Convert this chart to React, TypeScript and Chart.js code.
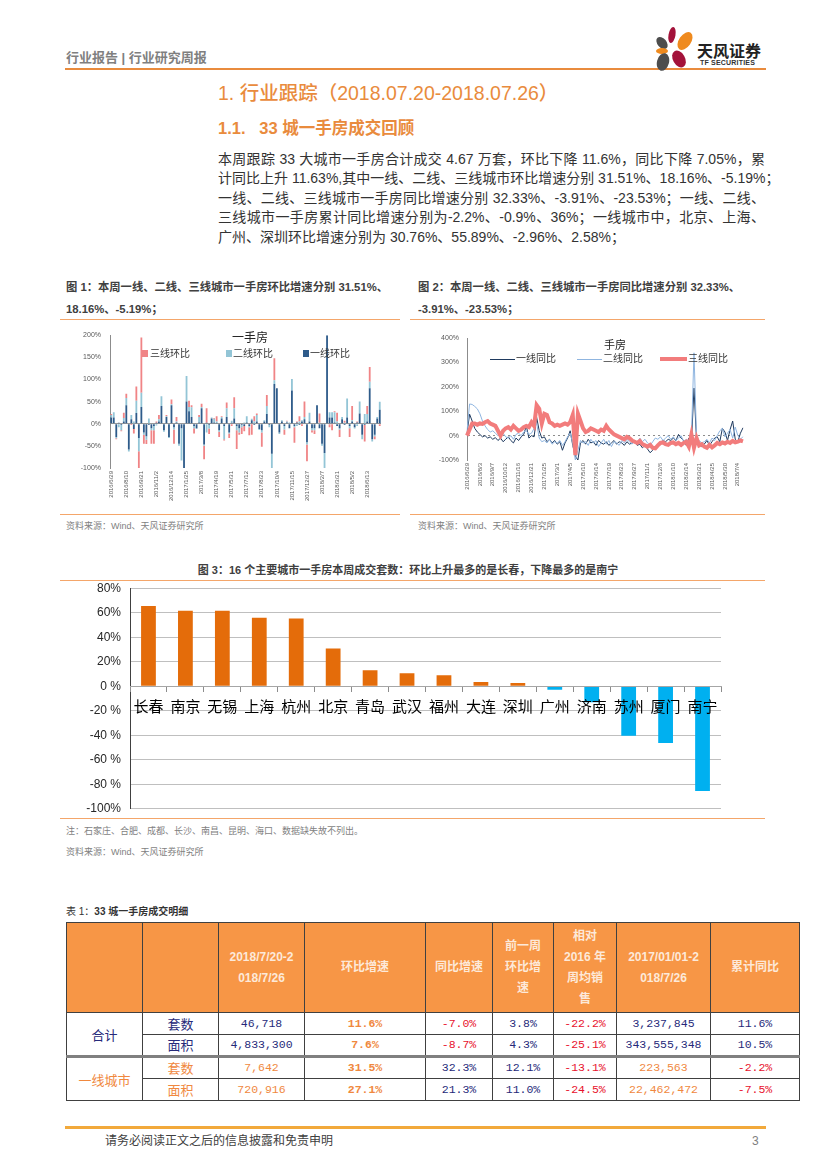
import React, { useEffect, useRef } from 'react';
import { Chart, registerables } from 'chart.js';

Chart.register(...registerables);

const CN = '"Liberation Sans", "Noto Sans CJK SC", sans-serif';
const CJK = '"Noto Sans CJK SC", "Liberation Sans", sans-serif';
Chart.defaults.font.family = CN;

// ---------- weekly categories (figures 1 & 2) ----------
const firstWeekUTC = Date.UTC(2016, 5, 29);
const weekCount = 108;
const weeks: string[] = [];
for (let i = 0; i < weekCount; i++) {
  const d = new Date(firstWeekUTC + i * 7 * 86400000);
  weeks.push(`${d.getUTCFullYear()}/${d.getUTCMonth() + 1}/${d.getUTCDate()}`);
}

// ---------- figure 1: week-on-week growth (%) ----------
const tier1Mom = [14,14,-30,2,-3,5,42,-58,10,-12,
  24,-32,38,-20,-28,-3,-10,-5,2,5,
  40,-15,15,-30,42,-8,3,-45,-10,-100,
  50,28,15,-5,-10,3,35,-47,2,-3,
  12,3,2,-15,12,-5,15,-20,2,12,
  -5,-10,-3,-5,3,-5,8,-3,5,-12,
  -15,5,22,-3,-68,90,80,-20,5,-5,
  3,-10,75,-5,3,-3,5,10,-42,5,
  -10,-10,42,-10,-45,-66,200,14,14,3,
  -5,-10,10,-3,14,-5,5,-8,3,23,
  -25,-3,5,80,-35,-25,12,31.51];
const tier2Mom = [6,12,-3,-8,-12,8,16,-5,10,5,
  28,-30,32,-5,-8,12,-5,-10,-4,5,
  22,-3,2,-2,2,-5,2,-5,-73,0,
  58,10,22,-5,-2,12,3,-3,-20,-8,
  2,8,3,-3,3,-30,20,-2,5,23,
  -10,-10,-5,3,14,-3,3,5,15,-2,
  -5,3,18,-5,-32,8,0,-3,3,-8,
  2,3,26,-3,-5,5,3,5,-5,20,
  -5,-5,0,2,-5,-34,0,12,12,23,
  5,-3,5,2,43,-5,3,-3,-5,27,
  -10,22,17,15,-5,-3,3,18.16];
const tier3Mom = [2,0,-2,0,-2,12,10,0,-3,-10,
  32,-38,125,-20,-10,0,-30,-30,3,10,
  0,0,3,0,11,-32,10,0,0,0,
  0,14,5,-12,0,5,7,-30,33,-12,
  0,2,12,-12,2,-3,13,-10,-5,25,
  -42,-5,-15,-12,0,-18,-25,12,3,0,
  -32,0,25,0,0,50,0,0,0,-12,
  2,0,0,-35,2,12,-5,35,-38,0,
  -5,-8,0,21,0,0,0,-8,-15,2,
  20,-17,0,5,0,-20,32,0,2,0,
  0,-37,18,33,0,-7,0,-5.19];

// ---------- figure 2: year-on-year growth (%) ----------
const tier1Yoy = [10,88,60,30,15,5,-5,0,-10,-5,
  -15,-8,-20,-10,-25,-15,-5,-20,-30,-10,
  -20,-5,5,40,-10,0,-5,75,20,-10,
  -5,-25,-15,-30,-20,-35,-25,-60,-30,-10,
  20,-40,-85,-100,-30,-20,-35,-15,-30,-25,
  -40,-20,-30,-35,-25,-40,-30,-20,-35,-25,
  -30,-40,-25,-35,-30,-20,-40,-35,-50,-40,
  -55,-70,-60,-45,-35,-30,-20,-25,-15,-20,
  -10,-20,5,-10,-20,-40,-10,-30,195,-20,
  -30,-45,-35,-20,-40,-25,-10,-5,-25,30,
  15,-20,25,60,-15,-25,10,32.33];
const tier2Yoy = [20,130,128,120,110,90,60,40,25,15,
  20,10,0,5,10,-5,-10,0,-15,5,
  10,0,15,20,5,10,30,50,-10,-25,
  -20,-30,-15,-35,-25,-30,-20,-40,-25,-5,
  10,-30,-100,-60,-20,-30,-25,-40,-15,-30,
  -20,-45,-30,-15,-35,-20,-45,-25,-30,-40,
  -20,-30,-15,-25,-35,-20,-30,-10,-25,-15,
  -30,-40,-25,-10,-15,-5,-20,-10,0,-15,
  -5,-20,-10,0,-25,-15,-30,-5,340,-10,
  -20,-30,-25,-15,-30,-10,-20,0,20,30,
  -5,10,25,-10,35,0,-15,-3.91];
const tier3Yoy = [0,25,50,50,45,50,48,55,60,50,
  45,40,20,0,20,30,35,25,40,30,
  20,25,35,40,35,55,40,125,110,50,
  90,85,55,50,40,45,40,45,50,45,
  55,85,-80,90,60,30,15,20,30,25,
  20,15,25,20,40,25,15,5,0,-5,
  -10,-15,-5,-10,-20,-25,-30,-22,-35,-40,
  -45,-38,-50,-52,-40,-30,-28,-35,-38,-30,
  -28,-35,-30,-38,-30,-25,-45,5,-50,-10,
  -40,-35,-45,-50,-38,-48,-40,-30,-35,-28,
  -32,-25,-30,-22,-28,-25,-20,-23.53];

// ---------- figure 3: 16 cities ----------
const cities = ['长春','南京','无锡','上海','杭州','北京','青岛','武汉','福州','大连','深圳','广州','济南','苏州','厦门','南宁'];
const cityMom = [65.5, 61.5, 61.5, 55.89, 55.3, 30.76, 13, 10.6, 9, 3.4, 2.58, -2.96, -13, -40.4, -46.4, -85.5];
const cityAxisLabels = ['-100%', '-80 %', '-60 %', '-40 %', '-20 %', '0 %', '20%', '40%', '60%', '80%'];

// ---------- table ----------
const tableHead = ['', '', '2018/7/20-2\n018/7/26', '环比增速', '同比增速', '前一周\n环比增\n速', '相对\n2016 年\n周均销\n售', '2017/01/01-2\n018/7/26', '累计同比'];
const colWidths = [76, 76, 86, 121, 67, 61, 63, 94, 89];
const NAVY = '#262a7a';
const RED = '#e8112d';
const ORG = '#f0883e';
const tableRows = [
  { group: '合计', groupColor: NAVY, kind: '套数', kindColor: NAVY, cells: [['46,718', NAVY], ['11.6%', ORG], ['-7.0%', RED], ['3.8%', NAVY], ['-22.2%', RED], ['3,237,845', NAVY], ['11.6%', NAVY]] },
  { group: '', groupColor: NAVY, kind: '面积', kindColor: NAVY, cells: [['4,833,300', NAVY], ['7.6%', ORG], ['-8.7%', RED], ['4.3%', NAVY], ['-25.1%', RED], ['343,555,348', NAVY], ['10.5%', NAVY]] },
  { group: '一线城市', groupColor: ORG, kind: '套数', kindColor: ORG, cells: [['7,642', ORG], ['31.5%', ORG], ['32.3%', NAVY], ['12.1%', NAVY], ['-13.1%', RED], ['223,563', ORG], ['-2.2%', RED]] },
  { group: '', groupColor: ORG, kind: '面积', kindColor: ORG, cells: [['720,916', ORG], ['27.1%', ORG], ['21.3%', NAVY], ['11.0%', NAVY], ['-24.5%', RED], ['22,462,472', ORG], ['-7.5%', RED]] },
];

const paragraphLines = [
  '本周跟踪 33 大城市一手房合计成交 4.67 万套，环比下降 11.6%，同比下降 7.05%，累',
  '计同比上升 11.63%,其中一线、二线、三线城市环比增速分别 31.51%、18.16%、-5.19%；',
  '一线、二线、三线城市一手房同比增速分别 32.33%、-3.91%、-23.53%；一线、二线、',
  '三线城市一手房累计同比增速分别为-2.2%、-0.9%、36%；一线城市中，北京、上海、',
  '广州、深圳环比增速分别为 30.76%、55.89%、-2.96%、2.58%；',
];

const abs = (x: number, y: number, extra: any = {}) => ({ position: 'absolute' as const, left: x, top: y, ...extra });

function Txt({ x, y, size, color = '#333', weight = 400, family = CN, children, lh, extra = {} }: any) {
  const h = lh || Math.round(size * 1.4);
  return (
    <div style={abs(x, y - h / 2, { fontSize: size, lineHeight: h + 'px', color, fontWeight: weight, fontFamily: family, whiteSpace: 'nowrap', ...extra })}>
      {children}
    </div>
  );
}

export default function App() {
  const c1 = useRef<HTMLCanvasElement>(null);
  const c2 = useRef<HTMLCanvasElement>(null);
  const c3 = useRef<HTMLCanvasElement>(null);

  useEffect(() => {
    const smallTick = { size: 6, family: CN };
    const ch1 = new Chart(c1.current!, {
      type: 'bar',
      data: {
        labels: weeks,
        datasets: [
          { label: '一线环比', data: tier1Mom, backgroundColor: '#2e5b8a', barPercentage: 0.8, categoryPercentage: 0.9 },
          { label: '二线环比', data: tier2Mom, backgroundColor: '#93c5d6', barPercentage: 0.8, categoryPercentage: 0.9 },
          { label: '三线环比', data: tier3Mom, backgroundColor: '#f08486', barPercentage: 0.8, categoryPercentage: 0.9 },
        ],
      },
      options: {
        animation: false, responsive: false, maintainAspectRatio: false,
        layout: { padding: { top: 8, right: 15, left: 0, bottom: 0 } },
        plugins: { legend: { display: false }, tooltip: { enabled: false } },
        scales: {
          x: {
            stacked: true,
            grid: { display: false, drawTicks: false },
            border: { display: false },
            ticks: { autoSkip: false, minRotation: 90, maxRotation: 90, font: smallTick, color: '#595959', padding: 3,
              callback: (_v: any, i: number) => (i % 6 === 0 ? weeks[i] : '') },
            afterFit: (s: any) => { s.height = 44; },
          },
          y: {
            stacked: true, min: -100, max: 200,
            ticks: { stepSize: 50, font: { size: 7, family: CN }, color: '#595959', padding: 9, callback: (v: any) => v + '%' },
            grid: { drawTicks: false, color: (c: any) => (c.tick && c.tick.value === 0 ? '#9a9a9a' : 'rgba(0,0,0,0)') },
            border: { color: '#8c8c8c' },
            afterFit: (s: any) => { s.width = 44; },
          },
        },
      },
    } as any);

    const ch2 = new Chart(c2.current!, {
      type: 'line',
      data: {
        labels: weeks,
        datasets: [
          { label: '一线同比', data: tier1Yoy, borderColor: '#1f3a5f', borderWidth: 1, pointRadius: 0, order: 2 },
          { label: '二线同比', data: tier2Yoy, borderColor: '#8fb5e0', borderWidth: 1, pointRadius: 0, order: 1 },
          { label: '三线同比', data: tier3Yoy, borderColor: '#f27c7c', borderWidth: 4, pointRadius: 0, order: 0 },
        ],
      },
      options: {
        animation: false, responsive: false, maintainAspectRatio: false,
        layout: { padding: { top: 9, right: 22, left: 0, bottom: 0 } },
        plugins: { legend: { display: false }, tooltip: { enabled: false } },
        scales: {
          x: {
            grid: { display: false, drawTicks: false },
            border: { display: false },
            ticks: { autoSkip: false, minRotation: 90, maxRotation: 90, font: smallTick, color: '#595959', padding: 3,
              callback: (_v: any, i: number) => (i % 5 === 0 ? weeks[i] : '') },
            afterFit: (s: any) => { s.height = 50; },
          },
          y: {
            min: -100, max: 400,
            ticks: { stepSize: 100, font: { size: 7, family: CN }, color: '#595959', padding: 8, callback: (v: any) => v + '%' },
            grid: { drawTicks: false, color: (c: any) => (c.tick && c.tick.value === 0 ? '#8c8c8c' : 'rgba(0,0,0,0)') },
            border: { color: '#8c8c8c', dash: [2, 3] },
            afterFit: (s: any) => { s.width = 49; },
          },
        },
      },
    } as any);

    const ch3 = new Chart(c3.current!, {
      type: 'bar',
      data: {
        labels: cities,
        datasets: [
          { label: '环比', data: cityMom, backgroundColor: cityMom.map((v) => (v >= 0 ? '#e46c0a' : '#00b0f0')), barPercentage: 0.4, categoryPercentage: 1 },
        ],
      },
      options: {
        animation: false, responsive: false, maintainAspectRatio: false,
        layout: { padding: { top: 3, right: 45, left: 0, bottom: 0 } },
        plugins: { legend: { display: false }, tooltip: { enabled: false } },
        scales: {
          x: {
            position: { y: 0 },
            grid: { drawOnChartArea: false, drawTicks: true, tickLength: 5, color: '#8c8c8c', z: 1 },
            border: { color: '#a6a6a6', z: 1 },
            ticks: { font: { size: 15, family: CJK }, color: '#000', padding: 6, autoSkip: false, maxRotation: 0, z: 2 },
          },
          y: {
            min: -100, max: 80,
            ticks: { stepSize: 20, font: { size: 12, family: CN }, color: '#262626', padding: 9,
              callback: (_v: any, i: number) => cityAxisLabels[i] },
            grid: { drawTicks: false, color: '#bfbfbf' },
            border: { color: '#404040' },
            afterFit: (s: any) => { s.width = 64; },
          },
        },
      },
    } as any);

    return () => { ch1.destroy(); ch2.destroy(); ch3.destroy(); };
  }, []);

  const orangeLine = (x: number, y: number, w: number, h = 1, color = '#f4a66a') => (
    <div style={abs(x, y, { width: w, height: h, background: color })} />
  );

  const legendBox = (x: number, y: number, color: string) => <div style={abs(x, y, { width: 6, height: 7, background: color })} />;
  const legendLine = (x: number, y: number, w: number, h: number, color: string) => <div style={abs(x, y - h / 2, { width: w, height: h, background: color })} />;

  return (
    <div style={{ position: 'absolute', left: 0, top: 0, width: 827, height: 1169, background: '#fff', overflow: 'hidden', fontFamily: CN }}>
      {/* header */}
      <Txt x={66} y={58} size={13} color="#7f7f7f" weight={700}>行业报告 | 行业研究周报</Txt>
      {orangeLine(65, 68, 701, 2, '#e98b3d')}
      <svg style={abs(652, 26)} width={44} height={46} viewBox="0 0 44 46">
        <ellipse cx={20} cy={9} rx={3.5} ry={8} fill="#a3123a" transform="rotate(10 20 9)" />
        <ellipse cx={33} cy={15} rx={6} ry={10} fill="#ef8a1e" transform="rotate(35 33 15)" />
        <ellipse cx={10} cy={17} rx={4.5} ry={7} fill="#4d4d4d" transform="rotate(-40 10 17)" />
        <ellipse cx={10} cy={25} rx={6} ry={3} fill="#ef8a1e" />
        <ellipse cx={27} cy={33} rx={6} ry={9} fill="#a3123a" transform="rotate(-30 27 33)" />
        <ellipse cx={11} cy={36} rx={6} ry={9} fill="#4d4d4d" transform="rotate(15 11 36)" />
      </svg>
      <Txt x={697} y={50} size={16} color="#222" weight={700} family={CJK}>天风证券</Txt>
      <Txt x={700} y={63} size={7} color="#333" weight={700} extra={{ letterSpacing: 0.2 }}>TF SECURITIES</Txt>

      {/* headings */}
      <Txt x={218} y={93} size={19.5} color="#e98b3d" weight={500}>1. 行业跟踪（2018.07.20-2018.07.26）</Txt>
      <Txt x={218} y={128} size={16.5} color="#e98b3d" weight={700}>1.1.&nbsp;&nbsp;&nbsp;33 城一手房成交回顾</Txt>

      {paragraphLines.map((t, i) => (
        <div key={i} style={abs(218, 158.5 + i * 19.5 - 11, { width: 547, fontSize: 14, lineHeight: '22px', color: '#333', textAlign: 'justify', textAlignLast: i < paragraphLines.length - 1 ? 'justify' : 'left', fontFamily: CN, whiteSpace: 'nowrap' })}>{t}</div>
      ))}

      {/* figure 1 */}
      <Txt x={66} y={287} size={11.3} color="#404040" weight={700}>图 1：本周一线、二线、三线城市一手房环比增速分别 31.51%、</Txt>
      <Txt x={66} y={309} size={11.3} color="#404040" weight={700}>18.16%、-5.19%；</Txt>
      {orangeLine(60, 319, 340)}
      <canvas ref={c1} width={330} height={190} style={abs(66, 322, { display: 'block' })} />
      <Txt x={232} y={338} size={12} color="#222">一手房</Txt>
      {legendBox(142, 350, '#f08486')}
      <Txt x={150} y={354} size={10} color="#333">三线环比</Txt>
      {legendBox(226, 350, '#93c5d6')}
      <Txt x={233} y={354} size={10} color="#333">二线环比</Txt>
      {legendBox(303, 350, '#2e5b8a')}
      <Txt x={310} y={354} size={10} color="#333">一线环比</Txt>
      {orangeLine(60, 514, 340)}
      <Txt x={66} y={526} size={9} color="#7f7f7f">资料来源：Wind、天风证券研究所</Txt>

      {/* figure 2 */}
      <Txt x={418} y={287} size={11.3} color="#404040" weight={700}>图 2：本周一线、二线、三线城市一手房同比增速分别 32.33%、</Txt>
      <Txt x={418} y={309} size={11.3} color="#404040" weight={700}>-3.91%、-23.53%；</Txt>
      {orangeLine(410, 319, 355)}
      <canvas ref={c2} width={347} height={184} style={abs(418, 326, { display: 'block' })} />
      <Txt x={604} y={345} size={11} color="#222">手房</Txt>
      {legendLine(490, 359, 25, 1, '#1f3a5f')}
      <Txt x={516} y={359} size={10} color="#333">一线同比</Txt>
      {legendLine(577, 359, 25, 1, '#8fb5e0')}
      <Txt x={603} y={359} size={10} color="#333">二线同比</Txt>
      {legendLine(660, 359, 27, 4, '#f27c7c')}
      <Txt x={688} y={359} size={10} color="#333">三线同比</Txt>
      {orangeLine(410, 514, 355)}
      <Txt x={418} y={526} size={9} color="#7f7f7f">资料来源：Wind、天风证券研究所</Txt>

      {/* figure 3 */}
      <div style={abs(58, 570 - 8, { width: 700, textAlign: 'center', fontSize: 11, lineHeight: '16px', fontWeight: 700, color: '#404040', fontFamily: CN })}>
        图 3：16 个主要城市一手房本周成交套数：环比上升最多的是长春，下降最多的是南宁
      </div>
      {orangeLine(60, 580, 705)}
      <canvas ref={c3} width={700} height={253} style={abs(66, 572, { display: 'block' })} />
      {orangeLine(60, 818, 705)}
      <Txt x={66} y={831} size={9} color="#7f7f7f">注：石家庄、合肥、成都、长沙、南昌、昆明、海口、数据缺失故不列出。</Txt>
      <Txt x={66} y={852} size={9} color="#7f7f7f">资料来源：Wind、天风证券研究所</Txt>

      {/* table */}
      <Txt x={66} y={912} size={10} color="#333"><span>表 1：</span><span style={{ fontWeight: 700 }}>33 城一手房成交明细</span></Txt>
      <table style={abs(66, 922, { borderCollapse: 'collapse', tableLayout: 'fixed', width: colWidths.reduce((a, b) => a + b, 0) })}>
        <colgroup>{colWidths.map((w, i) => <col key={i} style={{ width: w }} />)}</colgroup>
        <tbody>
          <tr style={{ height: 90 }}>
            {tableHead.map((h, i) => (
              <td key={i} style={{ background: '#f79646', border: '1px solid #404040', textAlign: 'center', verticalAlign: 'middle', color: '#fde9d9', fontWeight: 700, fontSize: 12, lineHeight: '21px', fontFamily: CN, padding: 0 }}>
                {h.split('\n').map((l, j) => <div key={j}>{l}</div>)}
              </td>
            ))}
          </tr>
          {tableRows.map((r, ri) => (
            <tr key={ri} style={{ height: 22 }}>
              {r.group !== '' && (
                <td rowSpan={2} style={{ border: '1px solid #404040', borderTop: ri === 2 ? '3px solid #808080' : '1px solid #404040', textAlign: 'center', color: r.groupColor, fontSize: 13, fontFamily: CJK, padding: 0 }}>{r.group}</td>
              )}
              <td style={{ border: '1px solid #404040', borderTop: ri === 2 ? '3px solid #808080' : '1px solid #404040', textAlign: 'center', color: r.kindColor, fontSize: 13, fontFamily: CJK, padding: 0, lineHeight: '20px' }}>{r.kind}</td>
              {r.cells.map((c, ci) => (
                <td key={ci} style={{ border: '1px solid #404040', borderTop: ri === 2 ? '3px solid #808080' : '1px solid #404040', textAlign: 'center', color: c[1], fontSize: 11.5, fontFamily: '"Liberation Mono", monospace', fontWeight: ci === 1 ? 700 : 400, padding: 0, lineHeight: '20px' }}>{c[0]}</td>
              ))}
            </tr>
          ))}
        </tbody>
      </table>

      {/* footer */}
      {orangeLine(65, 1126, 701, 3, '#f2a93b')}
      <Txt x={105} y={1141} size={12} color="#404040">请务必阅读正文之后的信息披露和免责申明</Txt>
      <Txt x={752} y={1141} size={12} color="#7f7f7f">3</Txt>
    </div>
  );
}
